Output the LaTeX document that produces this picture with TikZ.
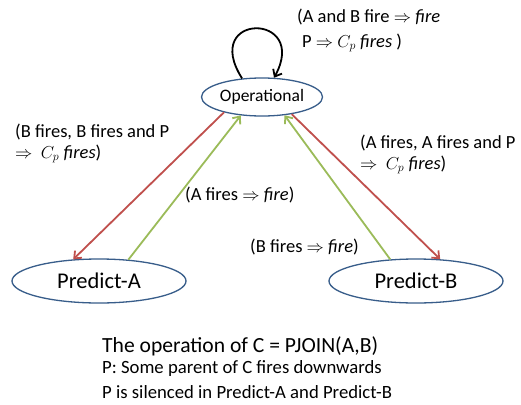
\documentclass[tikz,border=0pt]{standalone}
\usepackage{fontspec}
\setmainfont{Carlito}
\usetikzlibrary{arrows.meta,shapes.geometric}
\definecolor{ellblue}{RGB}{56,93,138}
\definecolor{redarr}{RGB}{192,80,77}
\definecolor{greenarr}{RGB}{155,187,89}
\tikzset{
  state/.style={ellipse,draw=ellblue,line width=1.3pt,inner sep=0pt},
  lbl/.style={anchor=west,inner sep=0pt,font=\fontsize{18.5}{22}\selectfont,align=left},
  redline/.style={draw=redarr,line width=1.8pt,-{Straight Barb[length=6pt,width=10pt]}},
  greenline/.style={draw=greenarr,line width=1.8pt,-{Straight Barb[length=6pt,width=10pt]}},
}
\begin{document}
\begin{tikzpicture}[x=1pt,y=-1pt]
\useasboundingbox[fill=white] (0,0) rectangle (521,404);
\node[state,minimum width=121pt,minimum height=38pt,font=\fontsize{17.5}{21}\selectfont] (op) at (262,97) {Operational};
\node[state,minimum width=174pt,minimum height=44pt,font=\fontsize{22.5}{27}\selectfont] (pa) at (99,281) {Predict-A};
\node[state,minimum width=174pt,minimum height=44pt,font=\fontsize{22.5}{27}\selectfont] (pb) at (416,281) {Predict-B};

\draw[black,line width=1.8pt,-{Straight Barb[length=6pt,width=10pt]}] (op.137) .. controls (200,12) and (310,12) .. (op.58);

\draw[redline] (op.202) -- (pa.140);
\draw[greenline] (pa.36) -- (op.221);
\draw[redline] (op.330) -- (pb.42);
\draw[greenline] (pb.140) -- (op.321);

\node[lbl] (l1) at (297,17) {(A and B fire $\Rightarrow$ \textit{fire}};
\node[lbl] (l2) at (302,43) {P $\Rightarrow$ $C_p$ \textit{fires} )};
\node[lbl] (l3) at (15,132) {(B fires, B fires and P};
\node[lbl] (l4) at (15,154) {$\Rightarrow$\ \ $C_p$ \textit{fires})};
\node[lbl] (l5) at (185,195) {(A fires $\Rightarrow$ \textit{fire})};
\node[lbl] (l6) at (360,143) {(A fires, A fires and P};
\node[lbl] (l7) at (360,165) {$\Rightarrow$\ \ $C_p$ \textit{fires})};
\node[lbl] (l8) at (250,247) {(B fires $\Rightarrow$ \textit{fire})};

\node[anchor=west,inner sep=0pt,font=\fontsize{21.6}{26}\selectfont] (t1) at (102,346) {The operation of C = PJOIN(A,B)};
\node[anchor=west,inner sep=0pt,font=\fontsize{18.7}{22}\selectfont] (t2) at (102,369) {P: Some parent of C fires downwards};
\node[anchor=west,inner sep=0pt,font=\fontsize{18.7}{22}\selectfont] (t3) at (102,392) {P is silenced in Predict-A and Predict-B};
\end{tikzpicture}
\end{document}
